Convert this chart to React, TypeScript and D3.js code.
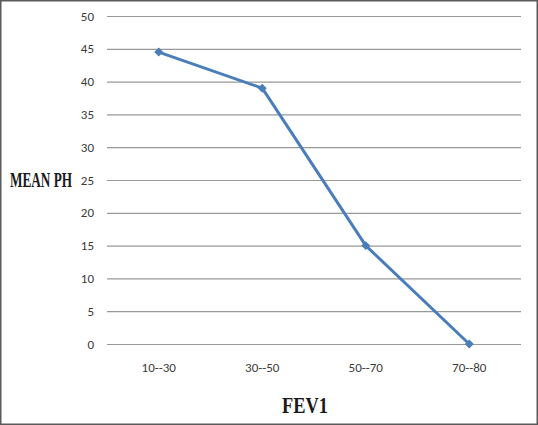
import React, { useRef, useEffect } from 'react';
import * as d3 from 'd3';

const categories = ['10--30', '30--50', '50--70', '70--80'];
const meanPh = [44.5, 39, 15, 0];
const yTicks = [0, 5, 10, 15, 20, 25, 30, 35, 40, 45, 50];

function App() {
    const ref = useRef<SVGSVGElement>(null);

    useEffect(() => {
        const width = 538;
        const height = 425;
        const margin = { top: 16, right: 16, bottom: 81, left: 107 };

        const svg = d3.select(ref.current);
        svg.selectAll('*').remove();

        svg.append('rect')
            .attr('x', 0.75).attr('y', 0.75)
            .attr('width', width - 1.5).attr('height', height - 1.5)
            .attr('fill', '#fff')
            .attr('stroke', '#5a5a5a')
            .attr('stroke-width', 1.5);

        const x = d3.scaleBand()
            .domain(categories)
            .range([margin.left, width - margin.right - 1]);

        const y = d3.scaleLinear()
            .domain([0, 50])
            .range([height - margin.bottom, margin.top]);

        const font = 'Calibri, Carlito, "Open Sans", sans-serif';

        // gridlines
        svg.append('g')
            .selectAll('line')
            .data(yTicks)
            .enter().append('line')
            .attr('x1', margin.left)
            .attr('x2', width - margin.right - 1)
            .attr('y1', d => y(d) + 0.5)
            .attr('y2', d => y(d) + 0.5)
            .attr('stroke', '#989898')
            .attr('stroke-width', 1.2);

        svg.append('g')
            .selectAll('text')
            .data(yTicks)
            .enter().append('text')
            .attr('x', 94)
            .attr('y', d => y(d))
            .attr('dy', '0.35em')
            .attr('text-anchor', 'end')
            .attr('font-family', font)
            .attr('font-size', 13)
            .attr('fill', '#3a3a3a')
            .text(d => d);

        svg.append('g')
            .selectAll('text')
            .data(categories)
            .enter().append('text')
            .attr('x', d => (x(d) as number) + x.bandwidth() / 2)
            .attr('y', 367)
            .attr('dy', '0.35em')
            .attr('text-anchor', 'middle')
            .attr('font-family', font)
            .attr('font-size', 13)
            .attr('fill', '#3a3a3a')
            .text(d => d);

        const cx = (i: number) => (x(categories[i]) as number) + x.bandwidth() / 2;

        const line = d3.line<number>()
            .x((d, i) => cx(i))
            .y(d => y(d));

        svg.append('path')
            .datum(meanPh)
            .attr('d', line)
            .attr('fill', 'none')
            .attr('stroke', '#4a7ebb')
            .attr('stroke-width', 3)
            .attr('stroke-linejoin', 'round');

        const marker = d3.symbol().type(d3.symbolSquare).size(40);
        svg.append('g')
            .selectAll('path')
            .data(meanPh)
            .enter().append('path')
            .attr('d', marker)
            .attr('transform', (d, i) => 'translate(' + cx(i) + ',' + y(d) + ') rotate(45)')
            .attr('fill', '#4a7ebb');

        svg.append('text')
            .attr('transform', 'translate(10,187) scale(0.63,1)')
            .attr('font-family', '"Liberation Serif", "Times New Roman", serif')
            .attr('font-weight', 'bold')
            .attr('font-size', 21)
            .attr('fill', '#1a1a1a')
            .text('MEAN PH');

        svg.append('text')
            .attr('transform', 'translate(282,413) scale(0.8,1)')
            .attr('font-family', '"Liberation Serif", "Times New Roman", serif')
            .attr('font-weight', 'bold')
            .attr('font-size', 23)
            .attr('fill', '#1a1a1a')
            .text('FEV1');
    }, []);

    return (
        <svg ref={ref} width={538} height={425} style={{ position: 'absolute', left: 0, top: 0 }} />
    );
}

export default App;
